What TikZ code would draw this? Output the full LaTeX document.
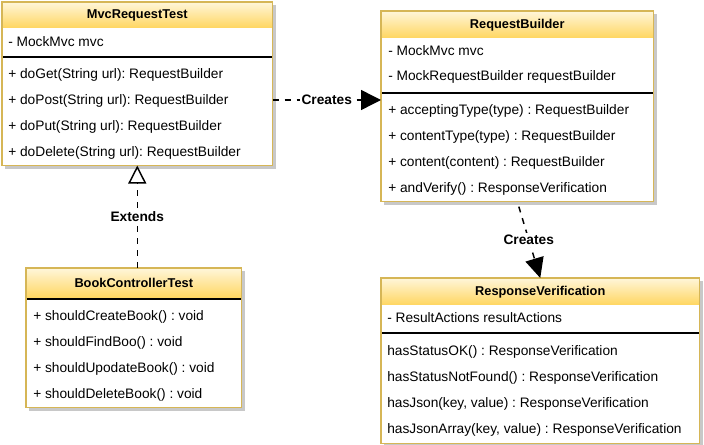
\documentclass[tikz,border=0pt]{standalone}
\usepackage{fontspec}
\setmainfont{Liberation Sans}
\usetikzlibrary{arrows.meta, backgrounds}
\definecolor{umlborder}{RGB}{214,182,86}
\definecolor{umltop}{RGB}{255,246,218}
\definecolor{umlbottom}{RGB}{255,214,96}
\definecolor{umlshadow}{RGB}{200,200,200}
\tikzset{
  classbox/.style={fill=white, inner sep=0pt, anchor=north west},
  classframe/.style={draw=umlborder, line width=1.1pt},
  classhead/.style={top color=umltop, bottom color=umlbottom},
  sepline/.style={line width=0.8pt},
  title/.style={font=\fontsize{9.6}{11}\selectfont\bfseries, inner sep=0pt},
  member/.style={font=\fontsize{10.3}{12}\selectfont, anchor=west, inner sep=0pt},
  relation/.style={line width=1.1pt, dash pattern=on 4.5pt off 4.5pt},
  relabel/.style={font=\fontsize{10.3}{12}\selectfont\bfseries, fill=white, inner sep=1.5pt},
}
\frenchspacing

\begin{document}
\begin{tikzpicture}[x=0.75pt,y=0.75pt,yscale=-1,xscale=1]
\useasboundingbox (0,0) rectangle (704,445);

% MvcRequestTest
\node[classbox, minimum width=202.5pt, minimum height=122.25pt] (mrt) at (2,2) {};
\shade[classhead] (mrt.north west) rectangle (mrt.east |- 0,28);
\draw[sepline] (mrt.west |- 0,57) -- (mrt.east |- 0,57);
\draw[classframe] (mrt.north west) rectangle (mrt.south east);
\node[title] (mrt-title) at (mrt.north |- 0,15) {MvcRequestTest};
\node[member] (mrt-a1) at (8,42) {- MockMvc mvc};
\foreach \txt [count=\i] in {{+ doGet(String url): RequestBuilder},{+ doPost(String url): RequestBuilder},{+ doPut(String url): RequestBuilder},{+ doDelete(String url): RequestBuilder}}
  \node[member] (mrt-m\i) at (8,49+26*\i) {\txt};

% RequestBuilder
\node[classbox, minimum width=204pt, minimum height=142.5pt] (rb) at (381,11) {};
\shade[classhead] (rb.north west) rectangle (rb.east |- 0,38);
\draw[sepline] (rb.west |- 0,93) -- (rb.east |- 0,93);
\draw[classframe] (rb.north west) rectangle (rb.south east);
\node[title] (rb-title) at (rb.north |- 0,25) {RequestBuilder};
\node[member] (rb-a1) at (388,51) {- MockMvc mvc};
\node[member] (rb-a2) at (388,77) {- MockRequestBuilder requestBuilder};
\foreach \txt [count=\i] in {{+ acceptingType(type) : RequestBuilder},{+ contentType(type) : RequestBuilder},{+ content(content) : RequestBuilder},{+ andVerify() : ResponseVerification}}
  \node[member] (rb-m\i) at (388,85+26*\i) {\txt};

% BookControllerTest
\node[classbox, minimum width=161.25pt, minimum height=104.25pt] (bct) at (26,268) {};
\shade[classhead] (bct.north west) rectangle (bct.east |- 0,298);
\draw[sepline] (bct.west |- 0,299) -- (bct.east |- 0,299);
\draw[classframe] (bct.north west) rectangle (bct.south east);
\node[title] (bct-title) at (bct.north |- 0,283) {BookControllerTest};
\foreach \txt [count=\i] in {{+ shouldCreateBook() : void},{+ shouldFindBoo() : void},{+ shouldUpodateBook() : void},{+ shouldDeleteBook() : void}}
  \node[member] (bct-m\i) at (33,291+26*\i) {\txt};

% ResponseVerification
\node[classbox, minimum width=238.5pt, minimum height=123.75pt] (rv) at (381,278) {};
\shade[classhead] (rv.north west) rectangle (rv.east |- 0,305);
\draw[sepline] (rv.west |- 0,333) -- (rv.east |- 0,333);
\draw[classframe] (rv.north west) rectangle (rv.south east);
\node[title] (rv-title) at (rv.north |- 0,292) {ResponseVerification};
\node[member] (rv-a1) at (387,318) {- ResultActions resultActions};
\foreach \txt [count=\i] in {{hasStatusOK() : ResponseVerification},{hasStatusNotFound() : ResponseVerification},{hasJson(key, value) : ResponseVerification},{hasJsonArray(key, value) : ResponseVerification}}
  \node[member] (rv-m\i) at (387,326+26*\i) {\txt};

% shadows
\begin{scope}[on background layer]
\foreach \cls in {mrt,rb,bct,rv}
  \fill[umlshadow] ([shift={(3,3)}]\cls.north west) rectangle ([shift={(3,3)}]\cls.south east);
\end{scope}

% relations
\draw[relation, -{Triangle[length=15pt,width=15pt]}] (mrt.east |- 0,100) -- node[relabel] (lbl-c1) {Creates} (rb.west |- 0,100);
\draw[relation, shorten <=4pt, -{Triangle[length=15pt,width=14pt]}] (rb.south) -- node[relabel] (lbl-c2) {Creates} (rv.north);
\draw[relation, -{Triangle[open,fill=white,length=13.5pt,width=13.5pt]}] (mrt.south |- bct.north) -- node[relabel] (lbl-ext) {Extends} (mrt.south);

\end{tikzpicture}
\end{document}
